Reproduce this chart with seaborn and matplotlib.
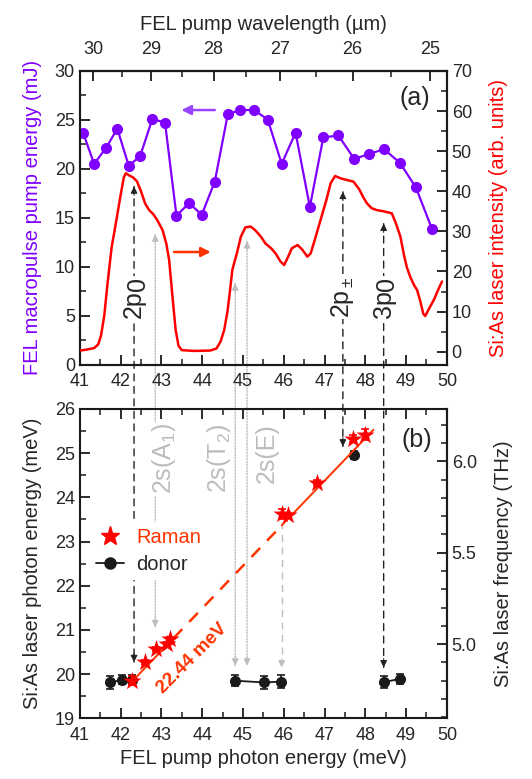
import numpy as np
import pandas as pd
import seaborn as sns
import matplotlib.pyplot as plt
from matplotlib.patches import ConnectionPatch
from matplotlib.lines import Line2D
from matplotlib.ticker import MultipleLocator

sns.set_theme(style='ticks')
plt.rcParams['font.family'] = ['Liberation Sans', 'DejaVu Sans']
plt.rcParams['mathtext.fontset'] = 'custom'
plt.rcParams['mathtext.rm'] = 'Liberation Sans'
plt.rcParams['mathtext.it'] = 'Liberation Sans:italic'
plt.rcParams['mathtext.bf'] = 'Liberation Sans:bold'

# panel (a): FEL macropulse energy
pump_e = [41.08, 41.35, 41.64, 41.92, 42.20, 42.48, 42.78, 43.09, 43.37, 43.68, 43.99, 44.31, 44.63, 44.94,
          45.28, 45.61, 45.95, 46.29, 46.64, 46.97, 47.34, 47.73, 48.08, 48.46, 48.85, 49.24, 49.64]
pump_mj = [23.7, 20.5, 22.1, 24.1, 20.3, 21.3, 25.1, 24.7, 15.2, 16.5, 15.3, 18.7, 25.6, 26.0,
           26.0, 25.0, 20.5, 23.7, 16.1, 23.2, 23.4, 21.0, 21.5, 22.0, 20.6, 18.1, 13.8]

# panel (a): Si:As laser intensity
las_e = [41.02, 41.2, 41.35, 41.45, 41.52, 41.6, 41.68, 41.78, 41.9, 42.0, 42.08, 42.13, 42.2, 42.3, 42.4,
         42.5, 42.6, 42.7, 42.8, 42.9, 43.03, 43.12, 43.19, 43.27, 43.35, 43.42, 43.5, 43.8, 44.2, 44.35,
         44.45, 44.54, 44.62, 44.68, 44.74, 44.85, 44.95, 45.06, 45.19, 45.3, 45.44, 45.55, 45.69, 45.8,
         45.92, 46.01, 46.1, 46.2, 46.34, 46.45, 46.58, 46.66, 46.75, 46.85, 46.95, 47.05, 47.15, 47.26,
         47.4, 47.55, 47.71, 47.85, 47.95, 48.04, 48.15, 48.28, 48.45, 48.65, 48.75, 48.86, 48.95, 49.02,
         49.1, 49.2, 49.27, 49.35, 49.42, 49.47, 49.55, 49.68, 49.78, 49.88]
las_int = [0.3, 0.6, 0.9, 1.8, 4, 9, 17, 26, 33, 39, 43.5, 44.5, 44, 43.5, 42.5,
           40, 37, 35.3, 34.3, 32.8, 30.3, 27, 22.9, 14, 5.4, 1.5, 0.4, 0.2, 0.3, 0.8,
           2.5, 5.4, 10, 15, 20.4, 24.5, 28.7, 31, 31.2, 30.3, 28.7, 27, 25.8, 24.5,
           22.5, 21.6, 23.5, 25.8, 26.6, 25.5, 23.7, 24.5, 27.5, 31, 34.5, 38, 42, 43.8,
           43.2, 42.8, 42.4, 40.5, 38.5, 37, 35.8, 35.3, 35, 34.5, 32, 28.7, 24, 21,
           18.7, 16.5, 15.4, 12.5, 9.5, 8.9, 10.5, 12.9, 15.3, 17.5]

# panel (b): Raman points and donor points
raman_e = [42.27, 42.6, 42.88, 43.13, 43.21, 45.95, 46.11, 46.81, 47.71, 48.0]
raman_y = [19.85, 20.27, 20.57, 20.68, 20.8, 23.62, 23.6, 24.33, 25.33, 25.42]
raman_err = [0.1, 0.05, 0.05, 0.05, 0.05, 0.12, 0.05, 0.06, 0.08, 0.13]

donor_e = [41.74, 42.04, 42.27, 44.80, 45.52, 45.94, 48.47, 48.84, 47.73]
donor_y = [19.81, 19.87, 19.87, 19.85, 19.81, 19.83, 19.82, 19.89, 24.96]
donor_err = [0.14, 0.1, 0.1, 0.13, 0.14, 0.15, 0.13, 0.12, 0.1]
donor_grp = [0, 0, 0, 1, 1, 1, 2, 2, 3]

fit_e = [42.3, 48.2]
fit_y = [19.85, 25.53]
fit_dash = [43.3, 45.95]

# transitions
p_names = ['2p', '2p$_\\pm$', '3p']
p_tail = ['0', '', '0']
p_e = [42.33, 47.45, 48.45]
p_top = [18.2, 17.65, 14.4]
p_bot = [20.27, 25.15, 20.15]

s_names = ['2s(A$_1$)', '2s(T$_2$)', '2s(E)']
s_e = [42.85, 44.81, 45.10]
s_top = [13.3, 8.3, 12.6]
s_bot = [21.06, 20.19, 20.19]
s_lab_e = [43.06, 44.41, 45.59]

PURPLE = '#8000ff'
ORANGE = '#ff3300'
TXT = '#262626'
GRAY = '#bdbdbd'
LAB = 14.5

fig = plt.figure(figsize=(5.32, 7.79), dpi=100)
ax1 = fig.add_axes([0.150, 0.532, 0.690, 0.377])
ax2 = fig.add_axes([0.150, 0.078, 0.690, 0.397])
ax1.set_facecolor('none')
ax2.set_facecolor('none')
ax1r = ax1.twinx()

df_pump = pd.DataFrame({'E': pump_e, 'mJ': pump_mj})
df_las = pd.DataFrame({'E': las_e, 'I': las_int})
sns.lineplot(data=df_pump, x='E', y='mJ', ax=ax1, color=PURPLE, marker='o', markersize=8,
             markeredgewidth=0, lw=1.6, sort=False, zorder=3)
sns.lineplot(data=df_las, x='E', y='I', ax=ax1r, color='red', lw=1.8, sort=False, zorder=3)

ax1.set_xlim(41, 50)
ax1.set_ylim(0, 30)
ax1r.set_ylim(-3.2, 70)
ax1.set_xlabel('')
ax1.set_ylabel('FEL macropulse pump energy (mJ)', color=PURPLE, fontsize=LAB, labelpad=9)
ax1r.set_ylabel('Si:As laser intensity (arb. units)', color='red', fontsize=LAB, labelpad=12)
ax1.xaxis.set_major_locator(MultipleLocator(1))
ax1.xaxis.set_minor_locator(MultipleLocator(0.5))
ax1.yaxis.set_major_locator(MultipleLocator(5))
ax1.yaxis.set_minor_locator(MultipleLocator(2.5))
ax1r.yaxis.set_major_locator(MultipleLocator(10))
ax1r.yaxis.set_minor_locator(MultipleLocator(5))

top = ax1.secondary_xaxis('top', functions=(lambda e: 1239.84 / e, lambda l: 1239.84 / l))
top.xaxis.set_major_locator(MultipleLocator(1))
top.xaxis.set_minor_locator(MultipleLocator(0.5))
top.set_xlabel('FEL pump wavelength (µm)', fontsize=LAB, color=TXT, labelpad=8)

ax1.annotate('', xy=(43.49, 26.0), xytext=(44.31, 26.0),
             arrowprops=dict(arrowstyle='-|>', color='#9944ff', lw=1.8, mutation_scale=14,
                             shrinkA=0, shrinkB=0))
ax1.annotate('', xy=(44.21, 11.5), xytext=(43.31, 11.5),
             arrowprops=dict(arrowstyle='-|>', color=ORANGE, lw=1.8, mutation_scale=14,
                             shrinkA=0, shrinkB=0))
ax1.text(49.22, 27.2, '(a)', fontsize=18, color=TXT, ha='center', va='center')

# panel (b)
df_don = pd.DataFrame({'E': donor_e, 'y': donor_y, 'grp': donor_grp})
ax2.errorbar(donor_e, donor_y, yerr=donor_err, fmt='none', ecolor='k', elinewidth=1.2,
             capsize=3, capthick=1.2, zorder=3)
sns.lineplot(data=df_don, x='E', y='y', units='grp', estimator=None, ax=ax2, color='k',
             marker='o', markersize=8, markeredgewidth=0, lw=1.3, sort=False, zorder=3)

fx = np.array(fit_e)
fy = np.array(fit_y)
d0, d1 = fit_dash
seg1 = [fx[0], d0]
seg2 = [d0, d1]
seg3 = [d1, fx[1]]
ax2.plot(seg1, np.interp(seg1, fx, fy), color=ORANGE, lw=1.4, zorder=4)
ax2.plot(seg2, np.interp(seg2, fx, fy), color=ORANGE, lw=1.8, ls=(0, (5, 4)), zorder=4)
ax2.plot(seg3, np.interp(seg3, fx, fy), color=ORANGE, lw=1.4, zorder=4)

ax2.errorbar(raman_e, raman_y, yerr=raman_err, fmt='none', ecolor='red', elinewidth=1.2,
             capsize=3, capthick=1.2, zorder=5)
sns.scatterplot(x=raman_e, y=raman_y, ax=ax2, marker='*', s=190, color='red', linewidth=0, zorder=6)

ax2.text(43.76, 20.36, '22.44 meV', color=ORANGE, fontsize=13.5, fontweight='bold', rotation=45,
         ha='center', va='center', rotation_mode='anchor')

ax2.set_xlim(41, 50)
ax2.set_ylim(19, 26)
ax2.set_xlabel('FEL pump photon energy (meV)', fontsize=LAB, color=TXT)
ax2.set_ylabel('Si:As laser photon energy (meV)', fontsize=LAB, color=TXT, labelpad=9)
ax2.xaxis.set_major_locator(MultipleLocator(1))
ax2.xaxis.set_minor_locator(MultipleLocator(0.5))
ax2.yaxis.set_major_locator(MultipleLocator(1))
ax2.yaxis.set_minor_locator(MultipleLocator(0.5))
thz = ax2.secondary_yaxis('right', functions=(lambda e: e * 0.241799, lambda f: f / 0.241799))
thz.yaxis.set_major_locator(MultipleLocator(0.5))
thz.yaxis.set_minor_locator(MultipleLocator(0.1))
thz.yaxis.set_major_formatter(lambda v, p: f'{v:.1f}')
thz.set_ylabel('Si:As laser frequency (THz)', fontsize=LAB, color=TXT, labelpad=12)
ax2.text(49.26, 25.3, '(b)', fontsize=18, color=TXT, ha='center', va='center')

leg = ax2.legend(handles=[Line2D([], [], marker='*', color='red', ls='none', markersize=14),
                          Line2D([], [], marker='o', color='k', markersize=8, lw=1.3)],
                 labels=['Raman', 'donor'], loc='center left', bbox_to_anchor=(0.0, 0.54),
                 frameon=True, framealpha=1, facecolor='white', edgecolor='none', fontsize=LAB,
                 handlelength=1.4, handletextpad=0.6, labelspacing=0.4, borderpad=0.3)
leg.get_texts()[0].set_color(ORANGE)
leg.get_texts()[1].set_color(TXT)

# style of all axes
for a in [ax1, ax1r, ax2, top, thz]:
    a.tick_params(which='both', direction='in', labelsize=13, colors='k', labelcolor=TXT)
    a.tick_params(which='major', length=7, width=1.3)
    a.tick_params(which='minor', length=4, width=1.1)
ax1.tick_params(which='both', top=False)
ax2.tick_params(which='both', top=True, labeltop=False)
ax1.tick_params(axis='x', pad=6)
ax2.tick_params(axis='x', pad=6)
top.tick_params(axis='x', pad=9)
for a in [ax1, ax1r, ax2]:
    for s in a.spines.values():
        s.set_linewidth(1.5)
        s.set_color('k')
top.spines['top'].set_linewidth(1.5)
thz.spines['right'].set_linewidth(1.5)

# transition arrows spanning both panels
def span_arrow(e, ytop, ybot, color, ls, lw):
    con = ConnectionPatch(xyA=(e, ytop), coordsA=ax1.transData, xyB=(e, ybot), coordsB=ax2.transData,
                          color=color, ls=ls, lw=lw, zorder=-1)
    fig.add_artist(con)
    head = dict(arrowstyle='-|>', color=color, lw=0.8, mutation_scale=10, shrinkA=0, shrinkB=0)
    ax1.annotate('', xy=(e, ytop), xytext=(e, ytop - 0.9), arrowprops=head, zorder=2)
    ax2.annotate('', xy=(e, ybot), xytext=(e, ybot + 0.2), arrowprops=head, zorder=2)

for e, yt, yb in zip(p_e, p_top, p_bot):
    span_arrow(e, yt, yb, '#222222', (0, (5, 4)), 1.0)
for e, yt, yb in zip(s_e, s_top, s_bot):
    span_arrow(e, yt, yb, GRAY, (0, (1, 1.2)), 1.0)

white = dict(facecolor='white', edgecolor='none', pad=1)
for name, tail, e in zip(p_names, p_tail, p_e):
    t = ax1.text(e, 4.8, name, rotation=90, ha='center', va='bottom', fontsize=18, color=TXT,
                 bbox=white, zorder=2)
    if tail:
        # full size, slightly lowered index as in the original
        ax1.annotate(tail, xy=(0.5, 1.0), xycoords=t, xytext=(2.5, -1), textcoords='offset points',
                     rotation=90, ha='center', va='bottom', fontsize=18, color=TXT, bbox=white, zorder=2)
for name, e in zip(s_names, s_lab_e):
    ax2.text(e, 25.68, name, rotation=90, ha='center', va='top', fontsize=18, color=GRAY,
             bbox=white, zorder=2)

# gray dashed guide from the Raman point down to the donor level
ax2.plot([45.95, 45.95], [23.45, 20.3], color=GRAY, lw=1.0, ls=(0, (5, 4)), zorder=1)
ax2.annotate('', xy=(45.95, 20.15), xytext=(45.95, 20.35),
             arrowprops=dict(arrowstyle='-|>', color=GRAY, lw=0.8, mutation_scale=10,
                             shrinkA=0, shrinkB=0))

fig.savefig('out.png', dpi=100, facecolor='white')
